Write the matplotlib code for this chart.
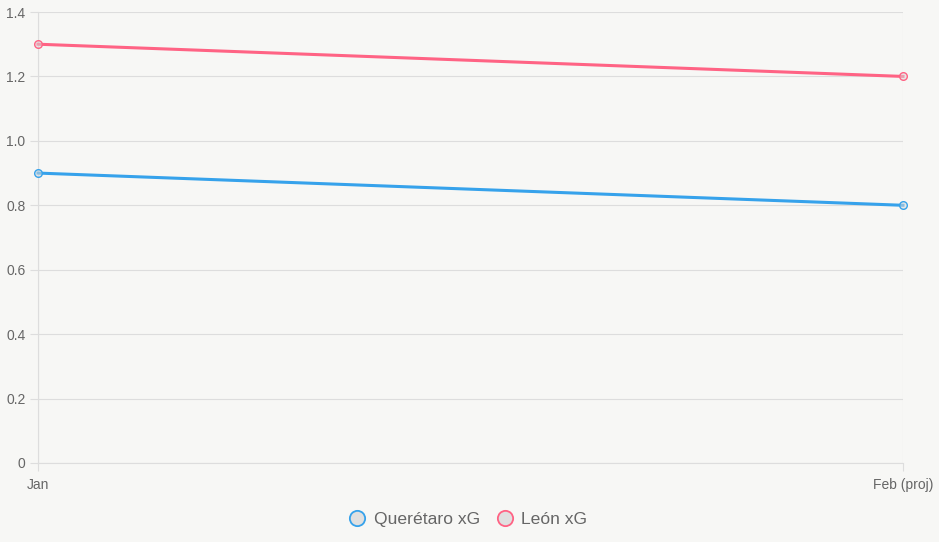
import matplotlib.pyplot as plt
from matplotlib.lines import Line2D

plt.rcParams['font.family'] = ['Liberation Sans', 'DejaVu Sans']

# datos
meses = ["Jan", "Feb (proj)"]
queretaro_xg = [0.9, 0.8]
leon_xg = [1.3, 1.2]
etiquetas = ["Querétaro xG", "León xG"]
colores = ["#36a2eb", "#ff6384"]

fondo = "#f7f7f5"
gris_rejilla = "#dddddd"
gris_texto = "#666666"

fig = plt.figure(figsize=(9.39, 5.42), dpi=100)
fig.patch.set_facecolor(fondo)
ax = fig.add_axes([38 / 939, (542 - 463) / 542, (903 - 38) / 939, (463 - 12) / 542])
ax.set_facecolor(fondo)

x = list(range(len(meses)))
for serie, color in zip([queretaro_xg, leon_xg], colores):
    ax.plot(x, serie, color=color, lw=2.2, marker="o", ms=5.5,
            mfc=(0.85, 0.85, 0.85, 0.5), mec=color, mew=1.0, zorder=3, clip_on=False)

ax.set_xlim(0, 1)
ax.set_ylim(0, 1.4)
ax.set_xticks(x)
ax.set_xticklabels(meses)
ax.set_yticks([0, 0.2, 0.4, 0.6, 0.8, 1.0, 1.2, 1.4])
ax.set_yticklabels(["0", "0.2", "0.4", "0.6", "0.8", "1.0", "1.2", "1.4"])

ax.grid(True, color=gris_rejilla, lw=0.8, zorder=0)
for s in ax.spines.values():
    s.set_visible(False)
ax.spines["left"].set_visible(True)
ax.spines["bottom"].set_visible(True)
ax.spines["left"].set_color(gris_rejilla)
ax.spines["bottom"].set_color(gris_rejilla)
ax.tick_params(axis="both", colors=gris_rejilla, labelcolor=gris_texto,
               labelsize=10, length=6, width=0.8)
ax.tick_params(axis="y", pad=3)
ax.tick_params(axis="x", pad=5)

handles = [Line2D([], [], ls="", marker="o", ms=11, mfc="#e0e0e0", mec=c, mew=1.3)
           for c in colores]
fig.legend(handles, etiquetas, loc="center", bbox_to_anchor=(467 / 939, 1 - 519 / 542),
           ncol=2, frameon=False, fontsize=12.6, labelcolor=gris_texto,
           handletextpad=0.35, columnspacing=0.8, handlelength=1.2)

fig.savefig("out.png", dpi=100, facecolor=fondo)
